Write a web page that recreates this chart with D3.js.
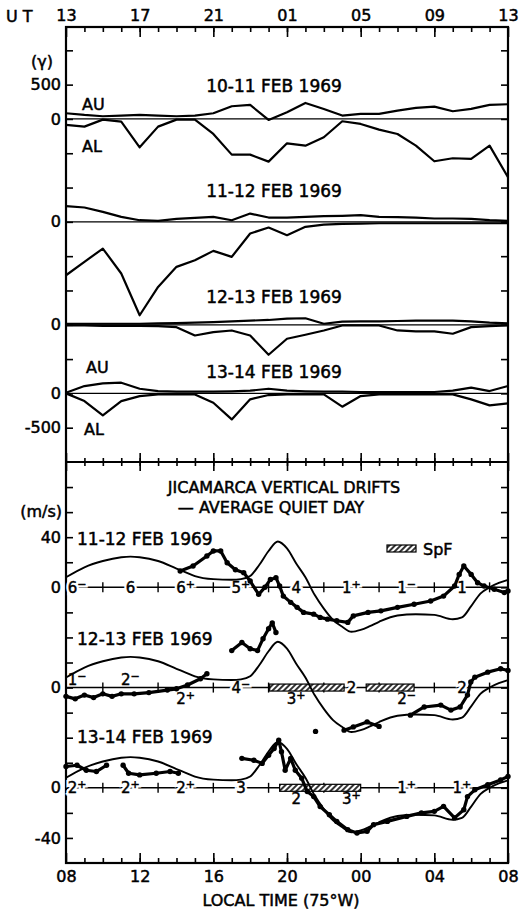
<!DOCTYPE html>
<html>
<head>
<meta charset="utf-8">
<script src="https://cdn.jsdelivr.net/npm/d3@7"></script>
<style>
  body { margin: 0; background: #fff; }
  svg { display: block; }
</style>
</head>
<body>
<div id="chart"></div>
<script>
// hours run 0..24 from 13 UT (= 08 LT, 75°W)
const utLabels = ['13', '17', '21', '01', '05', '09', '13'];
const ltLabels = ['08', '12', '16', '20', '00', '04', '08'];
const magDays = ['10-11 FEB 1969', '11-12 FEB 1969', '12-13 FEB 1969', '13-14 FEB 1969'];
const driftDays = ['11-12 FEB 1969', '12-13 FEB 1969', '13-14 FEB 1969'];
const gammaTickLabels = ['500', '0', '0', '0', '0', '-500'];
const driftTickLabels = ['40', '0', '0', '0', '-40'];

// hourly AU / AL (gamma), 13 UT .. 13 UT
const au1 = [83, 58, 39, 49, 58, 49, 39, 49, 83, 185, 204, -15, 98, 233, 146, 49, 73, 73, 121, 160, 180, 112, 146, 204, 214];
const al1 = [-87, -112, -10, -39, -413, -112, -10, -10, -219, -520, -520, -622, -355, -389, -267, -34, -73, -156, -219, -389, -617, -573, -583, -389, -850];
const au2 = [228, 209, 146, 73, 24, 15, 44, 58, 73, 24, 121, 63, 63, 73, 83, 88, 97, 73, 68, 63, 49, 49, 44, 24, 15];
const al2 = [-778, -583, -389, -753, -1361, -948, -656, -559, -423, -510, -170, -83, -194, -73, -40, -30, -25, -20, -20, -20, -20, -20, -20, -20, -20];
const au3 = [15, 15, 15, 15, 15, 20, 25, 30, 40, 50, 60, 70, 90, 95, 15, 45, 50, 50, 55, 60, 60, 60, 50, 30, 20];
const al3 = [-10, -10, -15, -15, -15, -20, -35, -156, -107, -83, -156, -437, -204, -146, -83, -10, -10, -10, -83, -97, -97, -131, -34, -20, -10];
const au4 = [10, 107, 146, 156, 68, 34, 25, 25, 25, 30, 40, 68, 40, 30, 25, 25, 20, 20, 20, 20, 20, 40, 83, 34, 107];
const al4 = [0, -112, -321, -112, -39, -15, -15, -15, -136, -379, -87, -24, -15, -15, -15, -194, -39, -15, -15, -15, -15, -15, -87, -175, -146];

// average quiet day vertical drift (m/s)
const quietH = [0, 1, 2, 3, 3.5, 4, 5, 6, 6.5, 7, 8, 9, 9.5, 10, 10.5, 11, 11.5, 12, 12.5, 13, 13.5, 14, 14.5, 15, 15.5, 16, 16.5, 17, 18, 19, 20, 21, 21.5, 22, 22.5, 23, 23.5, 24];
const quietV = [8, 16, 21, 24, 24.5, 24, 21, 15, 12, 9, 6.5, 6, 6.5, 9, 18, 29, 36.5, 31, 19, 8, -6, -17, -26, -31.5, -35.5, -34, -31, -27.5, -22.5, -21.5, -22, -25.5, -24, -15, -5, 0, 3.5, 6];

// measured drifts (null = gap)
const drift1H = [6.2, 6.9, 7.65, 8.0, 8.4, 8.75, 9.2, 9.65, 10.0, 10.46, 10.8, 11.1, 11.4, 11.6, 11.8, 12.2, 12.55, 12.9, 13.45, 13.8, 14.2, 14.7, 15.3, 15.6, 16.4, 17.1, 18, 18.9, 19.8, 20.5, 21.1, 21.35, 21.6, 22, 22.35, 22.7, 23.25, 23.8, 24];
const drift1V = [13, 17, 25, 29, 29, 19.6, 14, 11.7, 5, -5.6, 0, 6.3, 7.7, 1, -7, -12, -16, -20, -21.4, -24, -25.4, -26.7, -28, -22.8, -20, -18.8, -16, -13.5, -10.9, -7, 1, 10.3, 17, 10.3, 3.7, 1, -1.6, -4.2, -3];
const drift2H = [0, 0.5, 1, 1.5, 2, 2.5, 3, 3.7, 4.5, 5.5, 6.0, 6.6, 7.3, 7.65, 8.3, 9.0, 9.55, 10, 10.4, 10.7, 11.0, 11.2, 11.4, 12.5, 13.55, 14.3, 15.1, 15.6, 16.35, 17.0, 17.8, 18.7, 19.45, 20.35, 20.9, 21.4, 21.8, 21.98, 22.2, 22.9, 23.6, 24];
const drift2V = [-7, -9, -6, -8, -5, -7, -5, -5, -4, -2, -1, 2, 7, 11, null, 29.5, 36, 31, 29.5, 39, 47, 51.6, 44, null, -35, null, -34, -31.4, -27.4, -31, null, -22, -15.5, -14, -18, -15.5, -6, 4.4, 8.3, 12.3, 15, 13.6];
const drift3H = [0, 0.6, 1.1, 1.65, 2.2, 2.6, 3.1, 3.4, 4.0, 4.9, 5.65, 6.1, 8, 9.55, 10.2, 10.65, 11.0, 11.3, 11.55, 11.7, 11.9, 12.2, 12.45, 12.8, 13.1, 13.45, 13.8, 14.3, 14.7, 15.3, 15.8, 16.35, 16.7, 17.45, 18.5, 19.3, 20, 20.5, 21.1, 21.6, 21.8, 22.2, 22.9, 23.6, 24];
const drift3V = [17, 18, 14, 13, 18, null, 18, 11.6, 10.3, 11.6, 13, 11.6, null, 23.5, 22, 19.5, 26, 31.4, 38, 28.8, 14, 23.5, 14, 7.6, -3, -7, -15, -21.5, -26.8, -33.4, -36, -34.7, -29.4, -26.8, -22.8, -20, -18.8, -14.8, -24, -17.5, -7, -1.6, 2.4, 6.3, 9];

// Kp per 3-h UT interval and spread-F intervals
const kp1 = ['6-', '6', '6+', '5+', '4', '1+', '1-', '1'];
const kp2 = ['1-', '2-', '2+', '4-', '3+', '2', '2-', '2'];
const kp3 = ['2+', '2+', '2+', '3', '2', '3+', '1+', '1+'];
const kpHours = [0.6, 3.5, 6.5, 9.5, 12.5, 15.5, 18.5, 21.5];
const kpCross = [2, 5, 8, 11, 14, 17, 20, 23];
const spfStart2 = [11.06, 16.3];
const spfEnd2 = [15.1, 18.9];
const spfStart3 = [11.6];
const spfEnd3 = [16.0];

const W = 521, H = 909;
const left = 66, right = 508;
const topY = 27, midY = 462, botY = 863;
const font = 'DejaVu Sans, sans-serif';

const svg = d3.select('#chart').append('svg').attr('width', W).attr('height', H);

const x = d3.scaleLinear().domain([0, 24]).range([left, right]);
const yT = d3.scaleLinear().domain([-1000, 5340]).range([midY, topY]);
const yB = d3.scaleLinear().domain([-60, 260]).range([botY, midY]);

const magOffset = [4000, 2500, 1000, 0];
const driftOffset = [160, 80, 0];

// hatch pattern for SpF
const pat = svg.append('defs').append('pattern')
  .attr('id', 'hatch').attr('patternUnits', 'userSpaceOnUse')
  .attr('width', 4).attr('height', 4).attr('patternTransform', 'rotate(45)');
pat.append('rect').attr('width', 4).attr('height', 4).attr('fill', '#fff');
pat.append('line').attr('x1', 1).attr('x2', 1).attr('y1', 0).attr('y2', 4)
  .attr('stroke', '#000').attr('stroke-width', 1.6);

function tidy(g) {
  g.select('.domain').remove();
  g.selectAll('line').attr('stroke', '#000').attr('stroke-width', 1.6);
  g.selectAll('text').attr('font-family', font).attr('font-size', 16).attr('fill', '#000')
    .attr('stroke', '#000').attr('stroke-width', 0.5);
}

const minor = d3.range(1, 24);
const major = d3.range(0, 25, 4);

// time ticks: top frame, separator, bottom frame
svg.append('g').attr('transform', `translate(0,${topY})`)
  .call(d3.axisBottom(x).tickValues(minor).tickSize(5).tickFormat('')).call(tidy);
svg.append('g').attr('transform', `translate(0,${topY})`)
  .call(d3.axisBottom(x).tickValues(major).tickSize(10).tickFormat('')).call(tidy);
svg.append('g').attr('transform', `translate(0,${topY})`)
  .call(d3.axisTop(x).tickValues(major).tickSize(0).tickPadding(6).tickFormat((d, i) => utLabels[i])).call(tidy);

[d3.axisTop, d3.axisBottom].forEach(ax => {
  svg.append('g').attr('transform', `translate(0,${midY})`)
    .call(ax(x).tickValues(minor).tickSize(4).tickFormat('')).call(tidy);
  svg.append('g').attr('transform', `translate(0,${midY})`)
    .call(ax(x).tickValues(major).tickSize(9).tickFormat('')).call(tidy);
});

svg.append('g').attr('transform', `translate(0,${botY})`)
  .call(d3.axisTop(x).tickValues(minor).tickSize(5).tickFormat('')).call(tidy);
svg.append('g').attr('transform', `translate(0,${botY})`)
  .call(d3.axisTop(x).tickValues(major).tickSize(10).tickFormat('')).call(tidy);
svg.append('g').attr('transform', `translate(0,${botY})`)
  .call(d3.axisBottom(x).tickValues(major).tickSize(0).tickPadding(8).tickFormat((d, i) => ltLabels[i])).call(tidy);

// value ticks
const gammaTicks = d3.range(-500, 5001, 500);
const driftTicks = d3.range(-40, 241, 20);
svg.append('g').attr('transform', `translate(${left},0)`)
  .call(d3.axisRight(yT).tickValues(gammaTicks).tickSize(7).tickFormat('')).call(tidy);
svg.append('g').attr('transform', `translate(${right},0)`)
  .call(d3.axisLeft(yT).tickValues(gammaTicks).tickSize(7).tickFormat('')).call(tidy);
svg.append('g').attr('transform', `translate(${left},0)`)
  .call(d3.axisLeft(yT).tickValues([4500, 4000, 2500, 1000, 0, -500]).tickSize(0).tickPadding(5)
    .tickFormat((d, i) => gammaTickLabels[i])).call(tidy);
svg.append('g').attr('transform', `translate(${left},0)`)
  .call(d3.axisRight(yB).tickValues(driftTicks).tickSize(7).tickFormat('')).call(tidy);
svg.append('g').attr('transform', `translate(${right},0)`)
  .call(d3.axisLeft(yB).tickValues(driftTicks).tickSize(7).tickFormat('')).call(tidy);
svg.append('g').attr('transform', `translate(${left},0)`)
  .call(d3.axisLeft(yB).tickValues([200, 160, 80, 0, -40]).tickSize(0).tickPadding(5)
    .tickFormat((d, i) => driftTickLabels[i])).call(tidy);

// frames
svg.append('rect').attr('x', left).attr('y', topY).attr('width', right - left).attr('height', botY - topY)
  .attr('fill', 'none').attr('stroke', '#000').attr('stroke-width', 2.2);
svg.append('line').attr('x1', left).attr('x2', right).attr('y1', midY).attr('y2', midY)
  .attr('stroke', '#000').attr('stroke-width', 2.2);

function label(txt, tx, ty, anchor, size) {
  return svg.append('text').attr('x', tx).attr('y', ty)
    .attr('text-anchor', anchor || 'start')
    .attr('font-family', font).attr('font-size', size || 16).attr('fill', '#000')
    .attr('stroke', '#000').attr('stroke-width', 0.5)
    .text(txt);
}

// ---- top panel: AU / AL ----
label('U T', 6, 22, 'start', 16);
label('(γ)', 42, 67, 'middle', 16);
const magTitleY = [92, 197, 303, 378];
magDays.forEach((t, i) => label(t, 274, magTitleY[i], 'middle', 17));
label('AU', 82, 110); label('AL', 82, 152);
label('AU', 86, 373); label('AL', 84, 435);

const magSeries = [[au1, al1], [au2, al2], [au3, al3], [au4, al4]];
magSeries.forEach((pair, d) => {
  const off = magOffset[d];
  svg.append('line').attr('x1', left).attr('x2', right)
    .attr('y1', yT(off)).attr('y2', yT(off))
    .attr('stroke', '#000').attr('stroke-width', 1.3);
  const line = d3.line().x((v, i) => x(i)).y(v => yT(v + off));
  pair.forEach(arr => {
    svg.append('path').datum(arr).attr('d', line)
      .attr('fill', 'none').attr('stroke', '#000').attr('stroke-width', 2.2)
      .attr('stroke-linejoin', 'round');
  });
});

// ---- bottom panel: drifts ----
label('JICAMARCA VERTICAL DRIFTS', 284, 493, 'middle', 16);
label('— AVERAGE QUIET DAY', 271, 513, 'middle', 16);
label('(m/s)', 62, 517, 'end', 16);
const driftTitleY = [545, 645, 743];
driftDays.forEach((t, i) => label(t, 77, driftTitleY[i], 'start', 17));

svg.append('rect').attr('x', 387).attr('y', 545).attr('width', 29).attr('height', 7)
  .attr('fill', 'url(#hatch)').attr('stroke', '#000').attr('stroke-width', 1.2);
label('SpF', 423, 555, 'start', 16);

const kpSets = [kp1, kp2, kp3];
const kpPlace = [
  ['on', 'on', 'on', 'on', 'on', 'on', 'on', 'on'],
  ['up', 'up', 'down', 'on', 'down', 'on', 'down', 'on'],
  ['on', 'on', 'on', 'on', 'down', 'down', 'on', 'on']
];
const spfSets = [[[], []], [spfStart2, spfEnd2], [spfStart3, spfEnd3]];
const driftSets = [[drift1H, drift1V], [drift2H, drift2V], [drift3H, drift3V]];

function kpText(k, kx, ky, halo) {
  const base = k.replace(/[+-]$/, '');
  const sup = k.slice(base.length);
  const t = svg.append('text').attr('x', kx).attr('y', ky)
    .attr('text-anchor', 'middle')
    .attr('font-family', font).attr('font-size', 15).attr('fill', '#000');
  t.append('tspan').text(base);
  if (sup) t.append('tspan').attr('font-size', 11).attr('dy', -5).text(sup === '+' ? '+' : '−');
  if (halo) t.attr('stroke', '#fff').attr('stroke-width', 5).attr('fill', '#fff');
  else t.attr('stroke', '#000').attr('stroke-width', 0.45);
}

driftOffset.forEach((off, d) => {
  const y0 = yB(off);
  svg.append('line').attr('x1', left).attr('x2', right).attr('y1', y0).attr('y2', y0)
    .attr('stroke', '#000').attr('stroke-width', 1.4);
  svg.selectAll(null).data(kpCross).enter().append('line')
    .attr('x1', h => x(h)).attr('x2', h => x(h))
    .attr('y1', y0 - 5).attr('y2', y0 + 5)
    .attr('stroke', '#000').attr('stroke-width', 1.4);
  kpSets[d].forEach((k, i) => {
    const place = kpPlace[d][i];
    const kx = x(kpHours[i]);
    if (place === 'on') {
      kpText(k, kx, y0 + 5.5, true);
      kpText(k, kx, y0 + 5.5, false);
    } else if (place === 'up') {
      kpText(k, kx, y0 - 3, false);
    } else {
      kpText(k, kx, y0 + 16, false);
    }
  });
  const [s0, s1] = spfSets[d];
  s0.forEach((s, i) => {
    svg.append('rect').attr('x', x(s)).attr('y', y0 - 3.5)
      .attr('width', x(s1[i]) - x(s)).attr('height', 7)
      .attr('fill', 'url(#hatch)').attr('stroke', '#000').attr('stroke-width', 1.2);
  });

  const quiet = d3.line().curve(d3.curveMonotoneX)
    .x((v, i) => x(quietH[i])).y(v => yB(v + off));
  svg.append('path').datum(quietV).attr('d', quiet)
    .attr('fill', 'none').attr('stroke', '#000').attr('stroke-width', 1.9);

  const [hs, vs] = driftSets[d];
  const pts = hs.map((h, i) => ({ h, v: vs[i] }));
  const meas = d3.line().defined(p => p.v !== null)
    .x(p => x(p.h)).y(p => yB(p.v + off));
  svg.append('path').datum(pts).attr('d', meas)
    .attr('fill', 'none').attr('stroke', '#000').attr('stroke-width', 3.2)
    .attr('stroke-linejoin', 'round');
  svg.selectAll(null).data(pts.filter(p => p.v !== null)).enter().append('circle')
    .attr('cx', p => x(p.h)).attr('cy', p => yB(p.v + off)).attr('r', 2.7)
    .attr('fill', '#000');
});

label('LOCAL TIME  (75°W)', 281, 906, 'middle', 16);
</script>
</body>
</html>
